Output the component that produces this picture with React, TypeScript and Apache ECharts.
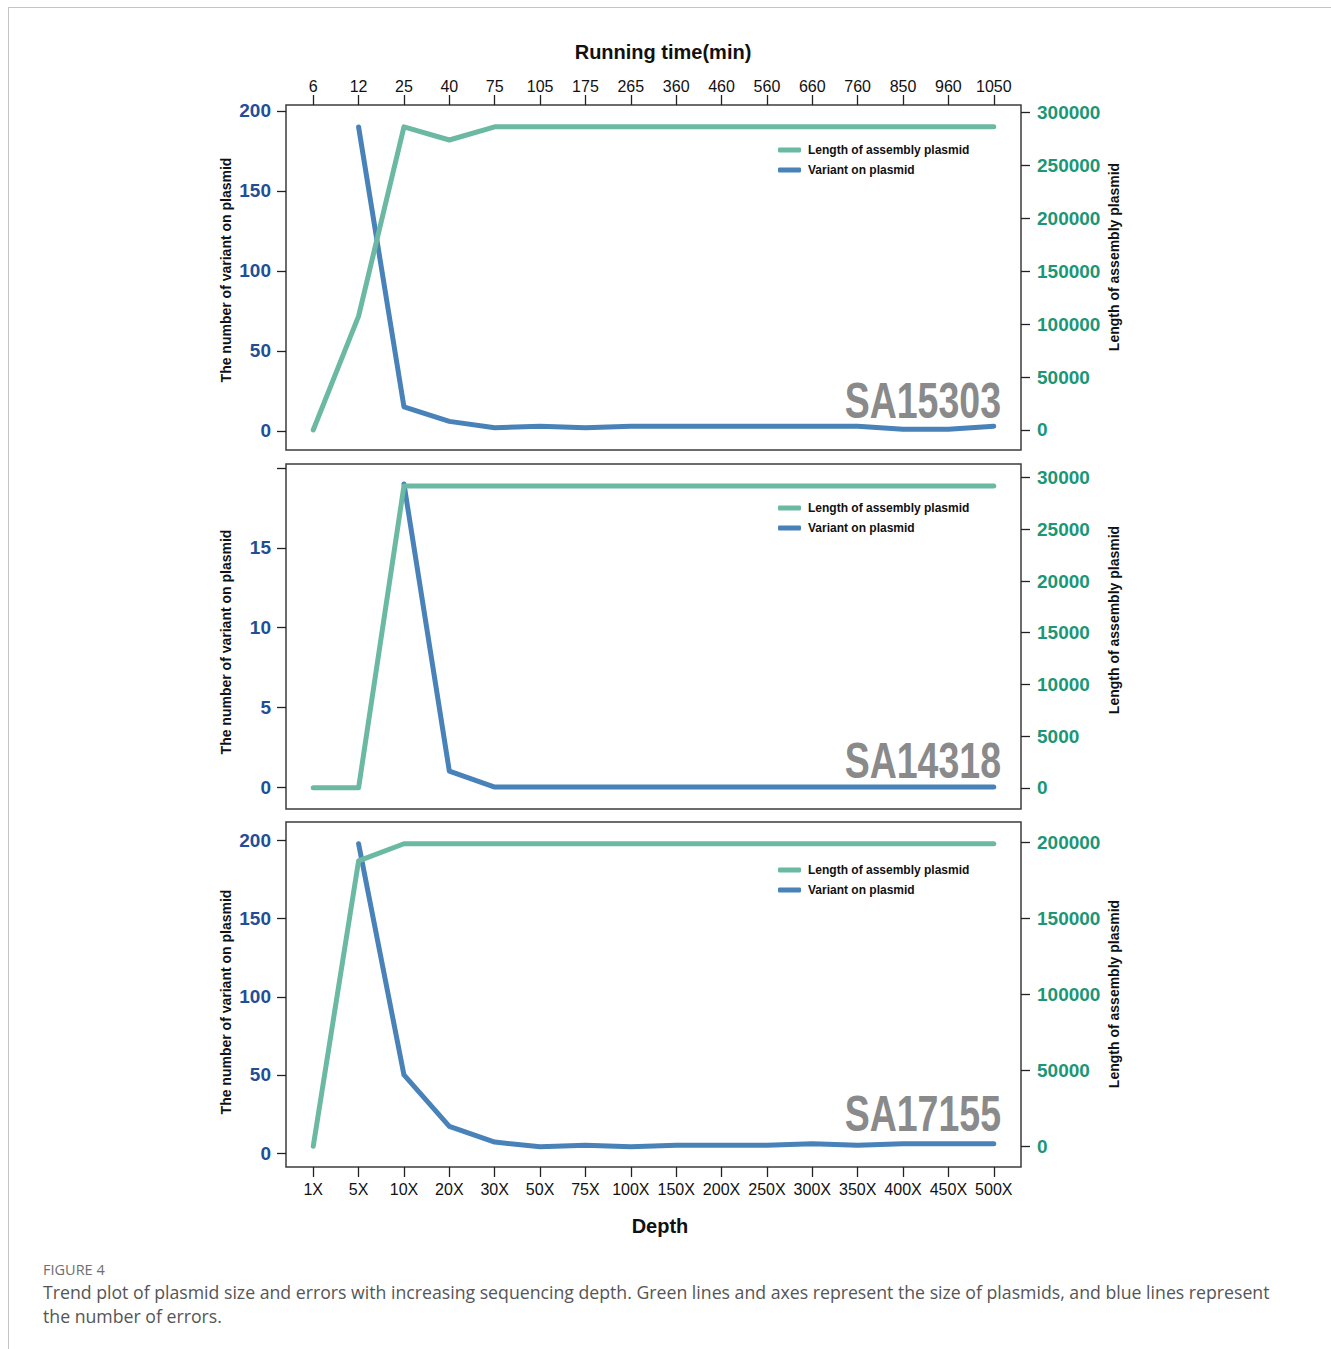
import React, { useEffect, useRef } from "react";
import * as echarts from "echarts";

const runningTime = ["6", "12", "25", "40", "75", "105", "175", "265", "360", "460", "560", "660", "760", "850", "960", "1050"];
const depthLabels = ["1X", "5X", "10X", "20X", "30X", "50X", "75X", "100X", "150X", "200X", "250X", "300X", "350X", "400X", "450X", "500X"];

const sampleNames = ["SA15303", "SA14318", "SA17155"];

const sa15303Variant = [null, 190, 15, 6, 2, 3, 2, 3, 3, 3, 3, 3, 3, 1, 1, 3];
const sa15303Length = [0, 107500, 286000, 273600, 286000, 286000, 286000, 286000, 286000, 286000, 286000, 286000, 286000, 286000, 286000, 286000];

const sa14318Variant = [null, null, 19, 1, 0, 0, 0, 0, 0, 0, 0, 0, 0, 0, 0, 0];
const sa14318Length = [0, 0, 29200, 29200, 29200, 29200, 29200, 29200, 29200, 29200, 29200, 29200, 29200, 29200, 29200, 29200];

const sa17155Variant = [null, 198, 50, 17, 7, 4, 5, 4, 5, 5, 5, 6, 5, 6, 6, 6];
const sa17155Length = [0, 188000, 199300, 199300, 199300, 199300, 199300, 199300, 199300, 199300, 199300, 199300, 199300, 199300, 199300, 199300];

const leftTicks = [
  [0, 50, 100, 150, 200],
  [0, 5, 10, 15, 20],
  [0, 50, 100, 150, 200],
];
const leftLabels = [
  [0, 50, 100, 150, 200],
  [0, 5, 10, 15],
  [0, 50, 100, 150, 200],
];
const rightTicks = [
  [0, 50000, 100000, 150000, 200000, 250000, 300000],
  [0, 5000, 10000, 15000, 20000, 25000, 30000],
  [0, 50000, 100000, 150000, 200000],
];

const variantSeries = [sa15303Variant, sa14318Variant, sa17155Variant];
const lengthSeries = [sa15303Length, sa14318Length, sa17155Length];

const GREEN = "#6bb9a2";
const BLUE = "#4882b8";
const LEFT_LABEL = "#1f4f96";
const RIGHT_LABEL = "#1b9677";
const LEN_NAME = "Length of assembly plasmid";
const VAR_NAME = "Variant on plasmid";

export default function App() {
  const ref = useRef<HTMLDivElement>(null);
  useEffect(() => {
    if (!ref.current) return;
    const chart = echarts.init(ref.current, undefined, { renderer: "svg" });

    const gridTops = [105, 464, 822];
    const gridH = 345;
    const leftRanges = [
      [-11.9, 203.75],
      [-1.375, 20.25],
      [-8.95, 211.9],
    ];
    const rightRanges = [
      [-18868, 306604],
      [-2055, 31323],
      [-13618, 213618],
    ];
    const idx = runningTime.map((_, i) => i);
    const numFont = "Liberation Sans, Arial, Helvetica, sans-serif";

    const grids = gridTops.map((t) => ({
      left: 286,
      right: 310,
      top: t,
      height: gridH,
      show: true,
      borderColor: "#3c3c3c",
      borderWidth: 1.5,
      backgroundColor: "transparent",
    }));

    const xAxes = [0, 1, 2].map((g) => ({
      type: "value",
      gridIndex: g,
      min: -0.6,
      max: 15.6,
      position: g === 0 ? "top" : "bottom",
      axisLine: { show: false, onZero: false },
      splitLine: { show: false },
      axisTick: {
        show: g !== 1,
        customValues: idx,
        length: 10,
        lineStyle: { color: "#222", width: 1.3 },
      },
      axisLabel: {
        show: g !== 1,
        customValues: idx,
        margin: g === 0 ? 11 : 14,
        fontSize: 16,
        fontFamily: numFont,
        color: "#111",
        formatter: (v: number) => (g === 0 ? runningTime[v] : depthLabels[v]),
      },
    }));

    const yAxes: any[] = [];
    [0, 1, 2].forEach((g) => {
      yAxes.push({
        type: "value",
        gridIndex: g,
        position: "left",
        min: leftRanges[g][0],
        max: leftRanges[g][1],
        axisLine: { show: false, onZero: false },
        splitLine: { show: false },
        axisTick: {
          show: true,
          customValues: leftTicks[g],
          length: 9,
          lineStyle: { color: "#222", width: 1.3 },
        },
        axisLabel: {
          customValues: leftLabels[g],
          margin: 15,
          fontSize: 19,
          fontWeight: "bold",
          fontFamily: numFont,
          color: LEFT_LABEL,
          formatter: (v: number) => String(v),
        },
      });
      yAxes.push({
        type: "value",
        gridIndex: g,
        position: "right",
        min: rightRanges[g][0],
        max: rightRanges[g][1],
        axisLine: { show: false, onZero: false },
        splitLine: { show: false },
        axisTick: {
          show: true,
          customValues: rightTicks[g],
          length: 9,
          lineStyle: { color: "#222", width: 1.3 },
        },
        axisLabel: {
          customValues: rightTicks[g],
          margin: 16,
          fontSize: 19,
          fontWeight: "bold",
          fontFamily: numFont,
          color: RIGHT_LABEL,
          formatter: (v: number) => String(v),
        },
      });
    });

    const series: any[] = [];
    [0, 1, 2].forEach((g) => {
      series.push({
        type: "line",
        name: VAR_NAME,
        xAxisIndex: g,
        yAxisIndex: g * 2,
        data: variantSeries[g].map((v, i) => [i, v === null ? "-" : v]),
        showSymbol: false,
        symbol: "none",
        color: BLUE,
        lineStyle: { color: BLUE, width: 5, cap: "round", join: "round" },
        connectNulls: false,
        z: 2,
      });
      series.push({
        type: "line",
        name: LEN_NAME,
        xAxisIndex: g,
        yAxisIndex: g * 2 + 1,
        data: lengthSeries[g].map((v, i) => [i, v]),
        showSymbol: false,
        symbol: "none",
        color: GREEN,
        lineStyle: { color: GREEN, width: 5, cap: "round", join: "round" },
        z: 3,
      });
    });

    const legendTops = [144, 502, 864];
    const legends = legendTops.map((t) => ({
      data: [LEN_NAME, VAR_NAME],
      orient: "vertical",
      left: 778,
      top: t,
      padding: 0,
      icon: "roundRect",
      itemWidth: 23,
      itemHeight: 5,
      itemGap: 8,
      selectedMode: false,
      textStyle: {
        fontSize: 12,
        fontWeight: "bold",
        fontFamily: numFont,
        color: "#111",
        padding: [0, 0, 0, 2],
      },
    }));

    const graphic: any[] = [
      { type: "line", shape: { x1: 8.5, y1: 7, x2: 8.5, y2: 1349 }, style: { stroke: "#c4c4c4", lineWidth: 1 } },
      { type: "line", shape: { x1: 8, y1: 7.5, x2: 1331, y2: 7.5 }, style: { stroke: "#c4c4c4", lineWidth: 1 } },
      {
        type: "text", x: 663, y: 52,
        style: { text: "Running time(min)", font: `bold 20px ${numFont}`, fill: "#111", align: "center", verticalAlign: "middle" },
      },
      {
        type: "text", x: 660, y: 1226,
        style: { text: "Depth", font: `bold 20px ${numFont}`, fill: "#111", align: "center", verticalAlign: "middle" },
      },
      {
        type: "text", x: 43, y: 1269,
        style: { text: "FIGURE 4", font: `14.5px "Open Sans", sans-serif`, fill: "#6e6e6e", align: "left", verticalAlign: "middle" },
      },
      {
        type: "text", x: 43, y: 1292,
        style: {
          text: "Trend plot of plasmid size and errors with increasing sequencing depth. Green lines and axes represent the size of plasmids, and blue lines represent",
          font: `17.7px "Open Sans", sans-serif`, fill: "#555", align: "left", verticalAlign: "middle",
        },
      },
      {
        type: "text", x: 43, y: 1316,
        style: { text: "the number of errors.", font: `17.7px "Open Sans", sans-serif`, fill: "#555", align: "left", verticalAlign: "middle" },
      },
    ];
    const leftTitleY = [270, 642, 1002];
    const rightTitleY = [257, 620, 994];
    const sampleY = [400, 760, 1113];
    [0, 1, 2].forEach((g) => {
      graphic.push({
        type: "text", x: 226, y: leftTitleY[g], rotation: Math.PI / 2,
        style: { text: "The number of variant on plasmid", font: `bold 14px ${numFont}`, fill: "#111", align: "center", verticalAlign: "middle" },
      });
      graphic.push({
        type: "text", x: 1114, y: rightTitleY[g], rotation: Math.PI / 2,
        style: { text: "Length of assembly plasmid", font: `bold 14px ${numFont}`, fill: "#111", align: "center", verticalAlign: "middle" },
      });
      graphic.push({
        type: "text", x: 1001, y: sampleY[g], scaleX: 0.75,
        style: {
          text: sampleNames[g],
          font: `bold 50px ${numFont}`,
          fill: "#8a8a8a", align: "right", verticalAlign: "middle",
        },
      });
    });

    chart.setOption({
      animation: false,
      backgroundColor: "#ffffff",
      grid: grids,
      xAxis: xAxes,
      yAxis: yAxes,
      legend: legends,
      series,
      graphic,
    });
    return () => chart.dispose();
  }, []);

  return (
    <div
      ref={ref}
      style={{ position: "absolute", left: 0, top: 0, width: 1331, height: 1349 }}
    />
  );
}
